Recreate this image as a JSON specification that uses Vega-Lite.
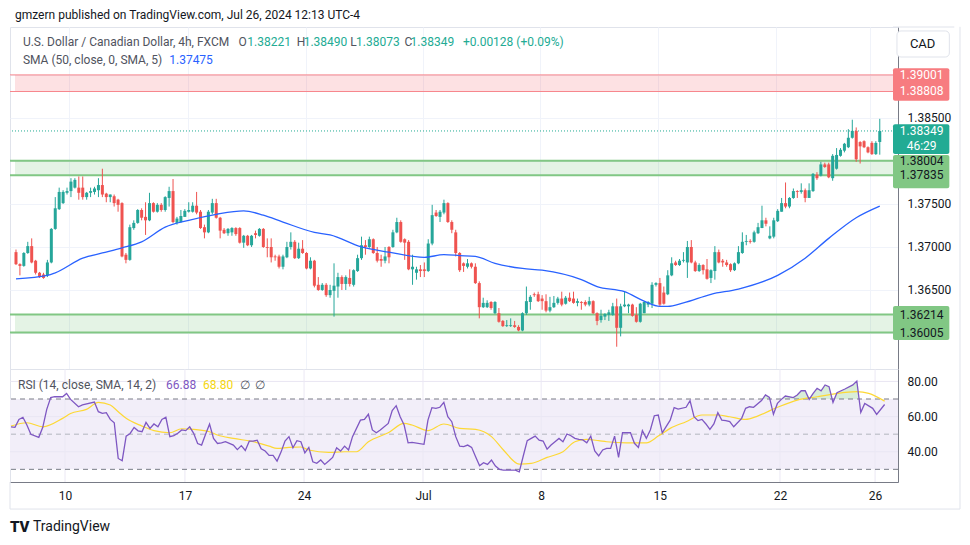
{
"$schema": "https://vega.github.io/schema/vega-lite/v6.json",
"background": "white",
"padding": {"left": 7, "top": 8, "right": 5, "bottom": 5},
"bounds": "flush",
"spacing": 0,
"config": {
  "view": {"stroke": "#e0e3eb"},
  "axis": {"gridColor": "#f0f3fa", "labelFont": "Roboto", "labelFontSize": 12, "labelColor": "#131722", "ticks": false, "tickSize": 0, "domainColor": "#787b86", "labelPadding": 9, "titleOpacity": 0},
  "text": {"font": "Roboto", "baseline": "middle"}
},
"datasets": {
"one": [{}],
"days": [{"i": 14.6, "d": "10"}, {"i": 44.8, "d": "17"}, {"i": 74.8, "d": "24"}, {"i": 104.75, "d": "Jul"}, {"i": 134.5, "d": "8"}, {"i": 164.4, "d": "15"}, {"i": 194.65, "d": "22"}, {"i": 218.6, "d": "26"}],
"rsilevels": [{"v": 40}, {"v": 60}, {"v": 80}],
"zones": [{"lo": 1.38808, "hi": 1.39001, "k": "res"}, {"lo": 1.37835, "hi": 1.38004, "k": "sup"}, {"lo": 1.36005, "hi": 1.36214, "k": "sup"}],
"tags": [{"p": 1.39001, "k": "res"}, {"p": 1.38808, "k": "res"}, {"p": 1.38349, "k": "last"}, {"p": 1.38004, "k": "sup"}, {"p": 1.37835, "k": "sup"}, {"p": 1.36214, "k": "sup"}, {"p": 1.36005, "k": "sup"}],
"candles": [
{"i":1,"o":1.3694,"h":1.3697,"l":1.3679,"c":1.3680},
{"i":2,"o":1.3680,"h":1.3681,"l":1.3667,"c":1.3678},
{"i":3,"o":1.3678,"h":1.3694,"l":1.3677,"c":1.3693},
{"i":4,"o":1.3693,"h":1.3706,"l":1.3692,"c":1.3701},
{"i":5,"o":1.3701,"h":1.3710,"l":1.3681,"c":1.3682},
{"i":6,"o":1.3684,"h":1.3685,"l":1.3668,"c":1.3670},
{"i":7,"o":1.3670,"h":1.3671,"l":1.3664,"c":1.3665},
{"i":8,"o":1.3668,"h":1.3670,"l":1.3663,"c":1.3664},
{"i":9,"o":1.3667,"h":1.3685,"l":1.3665,"c":1.3682},
{"i":10,"o":1.3682,"h":1.3722,"l":1.3681,"c":1.3721},
{"i":11,"o":1.3721,"h":1.3758,"l":1.3720,"c":1.3745},
{"i":12,"o":1.3744,"h":1.3769,"l":1.3743,"c":1.3764},
{"i":13,"o":1.3751,"h":1.3766,"l":1.3750,"c":1.3764},
{"i":14,"o":1.3763,"h":1.3769,"l":1.3761,"c":1.3765},
{"i":15,"o":1.3765,"h":1.3780,"l":1.3758,"c":1.3776},
{"i":16,"o":1.3769,"h":1.3780,"l":1.3768,"c":1.3778},
{"i":17,"o":1.3769,"h":1.3782,"l":1.3755,"c":1.3763},
{"i":18,"o":1.3769,"h":1.3782,"l":1.3755,"c":1.3758},
{"i":19,"o":1.3758,"h":1.3764,"l":1.3755,"c":1.3763},
{"i":20,"o":1.3763,"h":1.3769,"l":1.3758,"c":1.3765},
{"i":21,"o":1.3764,"h":1.3770,"l":1.3761,"c":1.3768},
{"i":22,"o":1.3766,"h":1.3780,"l":1.3758,"c":1.3772},
{"i":23,"o":1.3772,"h":1.3791,"l":1.3758,"c":1.3761},
{"i":24,"o":1.3762,"h":1.3763,"l":1.3752,"c":1.3758},
{"i":25,"o":1.3758,"h":1.3761,"l":1.3752,"c":1.3761},
{"i":26,"o":1.3759,"h":1.3761,"l":1.3747,"c":1.3751},
{"i":27,"o":1.3755,"h":1.3756,"l":1.3741,"c":1.3749},
{"i":28,"o":1.3751,"h":1.3752,"l":1.3688,"c":1.3689},
{"i":29,"o":1.3691,"h":1.3693,"l":1.3681,"c":1.3685},
{"i":30,"o":1.3685,"h":1.3726,"l":1.3684,"c":1.3723},
{"i":31,"o":1.3722,"h":1.3731,"l":1.3720,"c":1.3728},
{"i":32,"o":1.3728,"h":1.3744,"l":1.3727,"c":1.3743},
{"i":33,"o":1.3743,"h":1.3745,"l":1.3731,"c":1.3734},
{"i":34,"o":1.3735,"h":1.3752,"l":1.3714,"c":1.3731},
{"i":35,"o":1.3731,"h":1.3763,"l":1.3730,"c":1.3751},
{"i":36,"o":1.3751,"h":1.3752,"l":1.3740,"c":1.3741},
{"i":37,"o":1.3741,"h":1.3751,"l":1.3740,"c":1.3749},
{"i":38,"o":1.3749,"h":1.3751,"l":1.3741,"c":1.3743},
{"i":39,"o":1.3743,"h":1.3759,"l":1.3741,"c":1.3758},
{"i":40,"o":1.3757,"h":1.3770,"l":1.3747,"c":1.3765},
{"i":41,"o":1.3765,"h":1.3779,"l":1.3728,"c":1.3729},
{"i":42,"o":1.3728,"h":1.3735,"l":1.3726,"c":1.3733},
{"i":43,"o":1.3729,"h":1.3743,"l":1.3728,"c":1.3736},
{"i":44,"o":1.3735,"h":1.3744,"l":1.3735,"c":1.3742},
{"i":45,"o":1.3741,"h":1.3752,"l":1.3740,"c":1.3743},
{"i":46,"o":1.3741,"h":1.3752,"l":1.3740,"c":1.3748},
{"i":47,"o":1.3748,"h":1.3764,"l":1.3738,"c":1.3740},
{"i":48,"o":1.3741,"h":1.3743,"l":1.3721,"c":1.3722},
{"i":49,"o":1.3723,"h":1.3726,"l":1.3710,"c":1.3717},
{"i":50,"o":1.3717,"h":1.3743,"l":1.3716,"c":1.3741},
{"i":51,"o":1.3740,"h":1.3756,"l":1.3738,"c":1.3751},
{"i":52,"o":1.3751,"h":1.3756,"l":1.3733,"c":1.3734},
{"i":53,"o":1.3734,"h":1.3735,"l":1.3710,"c":1.3719},
{"i":54,"o":1.3720,"h":1.3722,"l":1.3715,"c":1.3716},
{"i":55,"o":1.3716,"h":1.3722,"l":1.3713,"c":1.3721},
{"i":56,"o":1.3717,"h":1.3723,"l":1.3713,"c":1.3722},
{"i":57,"o":1.3722,"h":1.3723,"l":1.3713,"c":1.3715},
{"i":58,"o":1.3722,"h":1.3723,"l":1.3704,"c":1.3705},
{"i":59,"o":1.3705,"h":1.3714,"l":1.3699,"c":1.3713},
{"i":60,"o":1.3713,"h":1.3714,"l":1.3701,"c":1.3702},
{"i":61,"o":1.3702,"h":1.3714,"l":1.3700,"c":1.3713},
{"i":62,"o":1.3716,"h":1.3719,"l":1.3710,"c":1.3714},
{"i":63,"o":1.3713,"h":1.3722,"l":1.3712,"c":1.3721},
{"i":64,"o":1.3721,"h":1.3722,"l":1.3699,"c":1.3700},
{"i":65,"o":1.3700,"h":1.3710,"l":1.3688,"c":1.3699},
{"i":66,"o":1.3700,"h":1.3710,"l":1.3682,"c":1.3688},
{"i":67,"o":1.3689,"h":1.3691,"l":1.3684,"c":1.3688},
{"i":68,"o":1.3689,"h":1.3691,"l":1.3675,"c":1.3677},
{"i":69,"o":1.3677,"h":1.3691,"l":1.3674,"c":1.3689},
{"i":70,"o":1.3688,"h":1.3706,"l":1.3687,"c":1.3700},
{"i":71,"o":1.3700,"h":1.3717,"l":1.3697,"c":1.3706},
{"i":72,"o":1.3706,"h":1.3708,"l":1.3686,"c":1.3687},
{"i":73,"o":1.3687,"h":1.3705,"l":1.3686,"c":1.3698},
{"i":74,"o":1.3698,"h":1.3708,"l":1.3692,"c":1.3693},
{"i":75,"o":1.3693,"h":1.3694,"l":1.3674,"c":1.3675},
{"i":76,"o":1.3675,"h":1.3688,"l":1.3674,"c":1.3684},
{"i":77,"o":1.3684,"h":1.3685,"l":1.3653,"c":1.3655},
{"i":78,"o":1.3656,"h":1.3665,"l":1.3649,"c":1.3650},
{"i":79,"o":1.3650,"h":1.3658,"l":1.3649,"c":1.3656},
{"i":80,"o":1.3656,"h":1.3658,"l":1.3642,"c":1.3644},
{"i":81,"o":1.3644,"h":1.3656,"l":1.3641,"c":1.3650},
{"i":82,"o":1.3649,"h":1.3681,"l":1.3619,"c":1.3655},
{"i":83,"o":1.3654,"h":1.3670,"l":1.3641,"c":1.3665},
{"i":84,"o":1.3665,"h":1.3667,"l":1.3650,"c":1.3657},
{"i":85,"o":1.3657,"h":1.3667,"l":1.3650,"c":1.3665},
{"i":86,"o":1.3664,"h":1.3674,"l":1.3654,"c":1.3657},
{"i":87,"o":1.3656,"h":1.3674,"l":1.3654,"c":1.3673},
{"i":88,"o":1.3672,"h":1.3691,"l":1.3671,"c":1.3687},
{"i":89,"o":1.3687,"h":1.3712,"l":1.3685,"c":1.3702},
{"i":90,"o":1.3702,"h":1.3708,"l":1.3691,"c":1.3700},
{"i":91,"o":1.3700,"h":1.3712,"l":1.3699,"c":1.3709},
{"i":92,"o":1.3709,"h":1.3710,"l":1.3692,"c":1.3693},
{"i":93,"o":1.3693,"h":1.3700,"l":1.3682,"c":1.3684},
{"i":94,"o":1.3686,"h":1.3691,"l":1.3677,"c":1.3684},
{"i":95,"o":1.3684,"h":1.3700,"l":1.3681,"c":1.3689},
{"i":96,"o":1.3700,"h":1.3701,"l":1.3681,"c":1.3688},
{"i":97,"o":1.3700,"h":1.3720,"l":1.3699,"c":1.3717},
{"i":98,"o":1.3717,"h":1.3734,"l":1.3716,"c":1.3729},
{"i":99,"o":1.3729,"h":1.3731,"l":1.3705,"c":1.3706},
{"i":100,"o":1.3709,"h":1.3710,"l":1.3685,"c":1.3705},
{"i":101,"o":1.3706,"h":1.3708,"l":1.3673,"c":1.3674},
{"i":102,"o":1.3674,"h":1.3691,"l":1.3656,"c":1.3677},
{"i":103,"o":1.3670,"h":1.3677,"l":1.3662,"c":1.3674},
{"i":104,"o":1.3674,"h":1.3679,"l":1.3665,"c":1.3672},
{"i":105,"o":1.3674,"h":1.3682,"l":1.3665,"c":1.3672},
{"i":106,"o":1.3672,"h":1.3709,"l":1.3671,"c":1.3704},
{"i":107,"o":1.3704,"h":1.3749,"l":1.3702,"c":1.3737},
{"i":108,"o":1.3740,"h":1.3743,"l":1.3735,"c":1.3736},
{"i":109,"o":1.3735,"h":1.3743,"l":1.3729,"c":1.3741},
{"i":110,"o":1.3740,"h":1.3755,"l":1.3738,"c":1.3751},
{"i":111,"o":1.3751,"h":1.3752,"l":1.3728,"c":1.3729},
{"i":112,"o":1.3729,"h":1.3731,"l":1.3716,"c":1.3720},
{"i":113,"o":1.3717,"h":1.3720,"l":1.3689,"c":1.3693},
{"i":114,"o":1.3693,"h":1.3694,"l":1.3671,"c":1.3673},
{"i":115,"o":1.3681,"h":1.3682,"l":1.3671,"c":1.3678},
{"i":116,"o":1.3677,"h":1.3686,"l":1.3675,"c":1.3681},
{"i":117,"o":1.3681,"h":1.3682,"l":1.3675,"c":1.3677},
{"i":118,"o":1.3677,"h":1.3681,"l":1.3657,"c":1.3658},
{"i":119,"o":1.3658,"h":1.3660,"l":1.3617,"c":1.3630},
{"i":120,"o":1.3630,"h":1.3641,"l":1.3629,"c":1.3635},
{"i":121,"o":1.3630,"h":1.3638,"l":1.3629,"c":1.3635},
{"i":122,"o":1.3636,"h":1.3637,"l":1.3627,"c":1.3629},
{"i":123,"o":1.3623,"h":1.3637,"l":1.3622,"c":1.3636},
{"i":124,"o":1.3623,"h":1.3629,"l":1.3612,"c":1.3613},
{"i":125,"o":1.3614,"h":1.3615,"l":1.3607,"c":1.3608},
{"i":126,"o":1.3608,"h":1.3615,"l":1.3607,"c":1.3609},
{"i":127,"o":1.3608,"h":1.3617,"l":1.3607,"c":1.3609},
{"i":128,"o":1.3609,"h":1.3614,"l":1.3606,"c":1.3607},
{"i":129,"o":1.3607,"h":1.3609,"l":1.3602,"c":1.3603},
{"i":130,"o":1.3603,"h":1.3624,"l":1.3602,"c":1.3623},
{"i":131,"o":1.3623,"h":1.3654,"l":1.3621,"c":1.3637},
{"i":132,"o":1.3636,"h":1.3644,"l":1.3627,"c":1.3642},
{"i":133,"o":1.3645,"h":1.3647,"l":1.3642,"c":1.3644},
{"i":134,"o":1.3645,"h":1.3648,"l":1.3636,"c":1.3637},
{"i":135,"o":1.3640,"h":1.3644,"l":1.3627,"c":1.3637},
{"i":136,"o":1.3637,"h":1.3645,"l":1.3624,"c":1.3626},
{"i":137,"o":1.3626,"h":1.3642,"l":1.3624,"c":1.3630},
{"i":138,"o":1.3630,"h":1.3643,"l":1.3629,"c":1.3635},
{"i":139,"o":1.3635,"h":1.3642,"l":1.3633,"c":1.3640},
{"i":140,"o":1.3640,"h":1.3648,"l":1.3631,"c":1.3633},
{"i":141,"o":1.3634,"h":1.3643,"l":1.3633,"c":1.3641},
{"i":142,"o":1.3641,"h":1.3647,"l":1.3636,"c":1.3637},
{"i":143,"o":1.3640,"h":1.3648,"l":1.3634,"c":1.3635},
{"i":144,"o":1.3635,"h":1.3640,"l":1.3631,"c":1.3637},
{"i":145,"o":1.3636,"h":1.3637,"l":1.3627,"c":1.3635},
{"i":146,"o":1.3636,"h":1.3638,"l":1.3631,"c":1.3633},
{"i":147,"o":1.3633,"h":1.3642,"l":1.3631,"c":1.3637},
{"i":148,"o":1.3637,"h":1.3638,"l":1.3622,"c":1.3623},
{"i":149,"o":1.3623,"h":1.3624,"l":1.3609,"c":1.3614},
{"i":150,"o":1.3615,"h":1.3627,"l":1.3612,"c":1.3620},
{"i":151,"o":1.3619,"h":1.3623,"l":1.3615,"c":1.3622},
{"i":152,"o":1.3621,"h":1.3627,"l":1.3614,"c":1.3624},
{"i":153,"o":1.3621,"h":1.3635,"l":1.3620,"c":1.3631},
{"i":154,"o":1.3631,"h":1.3640,"l":1.3584,"c":1.3606},
{"i":155,"o":1.3606,"h":1.3634,"l":1.3596,"c":1.3631},
{"i":156,"o":1.3631,"h":1.3648,"l":1.3630,"c":1.3633},
{"i":157,"o":1.3631,"h":1.3634,"l":1.3623,"c":1.3633},
{"i":158,"o":1.3633,"h":1.3634,"l":1.3619,"c":1.3620},
{"i":159,"o":1.3621,"h":1.3630,"l":1.3612,"c":1.3613},
{"i":160,"o":1.3613,"h":1.3635,"l":1.3612,"c":1.3634},
{"i":161,"o":1.3623,"h":1.3637,"l":1.3623,"c":1.3636},
{"i":162,"o":1.3633,"h":1.3637,"l":1.3630,"c":1.3636},
{"i":163,"o":1.3634,"h":1.3659,"l":1.3629,"c":1.3656},
{"i":164,"o":1.3656,"h":1.3659,"l":1.3654,"c":1.3658},
{"i":165,"o":1.3658,"h":1.3664,"l":1.3631,"c":1.3633},
{"i":166,"o":1.3647,"h":1.3654,"l":1.3633,"c":1.3634},
{"i":167,"o":1.3645,"h":1.3673,"l":1.3644,"c":1.3667},
{"i":168,"o":1.3667,"h":1.3688,"l":1.3666,"c":1.3681},
{"i":169,"o":1.3682,"h":1.3684,"l":1.3678,"c":1.3679},
{"i":170,"o":1.3679,"h":1.3686,"l":1.3678,"c":1.3684},
{"i":171,"o":1.3684,"h":1.3694,"l":1.3682,"c":1.3685},
{"i":172,"o":1.3682,"h":1.3707,"l":1.3664,"c":1.3700},
{"i":173,"o":1.3700,"h":1.3708,"l":1.3681,"c":1.3682},
{"i":174,"o":1.3682,"h":1.3684,"l":1.3671,"c":1.3672},
{"i":175,"o":1.3672,"h":1.3681,"l":1.3671,"c":1.3679},
{"i":176,"o":1.3679,"h":1.3680,"l":1.3668,"c":1.3673},
{"i":177,"o":1.3674,"h":1.3686,"l":1.3662,"c":1.3663},
{"i":178,"o":1.3664,"h":1.3674,"l":1.3658,"c":1.3673},
{"i":179,"o":1.3672,"h":1.3701,"l":1.3662,"c":1.3694},
{"i":180,"o":1.3694,"h":1.3697,"l":1.3681,"c":1.3682},
{"i":181,"o":1.3684,"h":1.3686,"l":1.3677,"c":1.3682},
{"i":182,"o":1.3682,"h":1.3685,"l":1.3677,"c":1.3679},
{"i":183,"o":1.3680,"h":1.3681,"l":1.3671,"c":1.3673},
{"i":184,"o":1.3673,"h":1.3682,"l":1.3672,"c":1.3681},
{"i":185,"o":1.3681,"h":1.3701,"l":1.3680,"c":1.3694},
{"i":186,"o":1.3693,"h":1.3717,"l":1.3692,"c":1.3706},
{"i":187,"o":1.3706,"h":1.3714,"l":1.3702,"c":1.3707},
{"i":188,"o":1.3707,"h":1.3709,"l":1.3704,"c":1.3706},
{"i":189,"o":1.3706,"h":1.3719,"l":1.3705,"c":1.3717},
{"i":190,"o":1.3716,"h":1.3728,"l":1.3715,"c":1.3723},
{"i":191,"o":1.3722,"h":1.3748,"l":1.3722,"c":1.3731},
{"i":192,"o":1.3731,"h":1.3734,"l":1.3724,"c":1.3727},
{"i":193,"o":1.3710,"h":1.3724,"l":1.3709,"c":1.3713},
{"i":194,"o":1.3712,"h":1.3734,"l":1.3710,"c":1.3731},
{"i":195,"o":1.3730,"h":1.3744,"l":1.3729,"c":1.3742},
{"i":196,"o":1.3741,"h":1.3757,"l":1.3741,"c":1.3751},
{"i":197,"o":1.3751,"h":1.3775,"l":1.3745,"c":1.3747},
{"i":198,"o":1.3747,"h":1.3758,"l":1.3745,"c":1.3757},
{"i":199,"o":1.3757,"h":1.3768,"l":1.3756,"c":1.3765},
{"i":200,"o":1.3765,"h":1.3766,"l":1.3757,"c":1.3764},
{"i":201,"o":1.3764,"h":1.3774,"l":1.3762,"c":1.3766},
{"i":202,"o":1.3766,"h":1.3768,"l":1.3752,"c":1.3757},
{"i":203,"o":1.3757,"h":1.3774,"l":1.3757,"c":1.3766},
{"i":204,"o":1.3765,"h":1.3786,"l":1.3764,"c":1.3785},
{"i":205,"o":1.3784,"h":1.3787,"l":1.3778,"c":1.3780},
{"i":206,"o":1.3783,"h":1.3799,"l":1.3782,"c":1.3796},
{"i":207,"o":1.3796,"h":1.3798,"l":1.3792,"c":1.3793},
{"i":208,"o":1.3796,"h":1.3798,"l":1.3780,"c":1.3781},
{"i":209,"o":1.3780,"h":1.3808,"l":1.3777,"c":1.3806},
{"i":210,"o":1.3791,"h":1.3815,"l":1.3790,"c":1.3807},
{"i":211,"o":1.3806,"h":1.3815,"l":1.3805,"c":1.3813},
{"i":212,"o":1.3812,"h":1.3821,"l":1.3810,"c":1.3820},
{"i":213,"o":1.3816,"h":1.3837,"l":1.3815,"c":1.3827},
{"i":214,"o":1.3827,"h":1.3848,"l":1.3826,"c":1.3835},
{"i":215,"o":1.3835,"h":1.3839,"l":1.3799,"c":1.3802},
{"i":216,"o":1.3822,"h":1.3823,"l":1.3797,"c":1.3817},
{"i":217,"o":1.3823,"h":1.3824,"l":1.3815,"c":1.3816},
{"i":218,"o":1.3816,"h":1.3817,"l":1.3809,"c":1.3810},
{"i":219,"o":1.3821,"h":1.3823,"l":1.3807,"c":1.3808},
{"i":220,"o":1.3808,"h":1.3823,"l":1.3807,"c":1.3821},
{"i":221,"o":1.38221,"h":1.38490,"l":1.38073,"c":1.38349}
],
"sma": [
{"i":1,"v":1.3663},{"i":9,"v":1.3667},{"i":11,"v":1.3670},{"i":18,"v":1.3687},{"i":23,"v":1.3693},{"i":28,"v":1.3699},{"i":33,"v":1.3706},{"i":39,"v":1.3723},{"i":45,"v":1.3731},{"i":52,"v":1.3738},{"i":59,"v":1.3742},{"i":64,"v":1.3737},{"i":69,"v":1.3729},{"i":77,"v":1.3717},{"i":81,"v":1.3714},{"i":89,"v":1.3700},{"i":96,"v":1.3694},{"i":105,"v":1.3688},{"i":110,"v":1.3691},{"i":114,"v":1.3690},{"i":118,"v":1.3689},{"i":123,"v":1.3681},{"i":130,"v":1.3675},{"i":135,"v":1.3673},{"i":145,"v":1.3662},{"i":149,"v":1.3654},{"i":156,"v":1.3648},{"i":161,"v":1.3637},{"i":165,"v":1.3631},{"i":167,"v":1.3631},{"i":171,"v":1.3635},{"i":178,"v":1.3645},{"i":185,"v":1.3651},{"i":195,"v":1.3667},{"i":202,"v":1.3687},{"i":208,"v":1.3710},{"i":215,"v":1.3734},{"i":221,"v":1.37475}
],
"rsi": [
{"i":1,"v":54.2},{"i":2,"v":53.9},{"i":3,"v":58.4},{"i":4,"v":59.6},{"i":5,"v":55.2},{"i":6,"v":49.9},{"i":8,"v":48.2},{"i":9,"v":53.9},{"i":10,"v":64.1},{"i":11,"v":70.8},{"i":12,"v":71.3},{"i":14,"v":71.3},{"i":15,"v":73.2},{"i":16,"v":69.8},{"i":18,"v":65.6},{"i":19,"v":66.6},{"i":22,"v":68.3},{"i":23,"v":62.8},{"i":24,"v":61.8},{"i":25,"v":62.2},{"i":26,"v":58.4},{"i":27,"v":56.5},{"i":28,"v":36.2},{"i":29,"v":34.9},{"i":30,"v":48.9},{"i":31,"v":50.4},{"i":32,"v":53.8},{"i":33,"v":51.9},{"i":34,"v":51.4},{"i":35,"v":56.7},{"i":36,"v":53.3},{"i":37,"v":55.8},{"i":38,"v":54.2},{"i":39,"v":58.4},{"i":40,"v":59.6},{"i":41,"v":48.6},{"i":42,"v":49.2},{"i":43,"v":50.5},{"i":44,"v":52.4},{"i":45,"v":52.0},{"i":46,"v":54.2},{"i":47,"v":50.5},{"i":48,"v":44.7},{"i":49,"v":43.8},{"i":50,"v":50.0},{"i":51,"v":55.7},{"i":52,"v":47.6},{"i":53,"v":44.7},{"i":54,"v":45.1},{"i":55,"v":45.7},{"i":57,"v":43.8},{"i":58,"v":41.2},{"i":59,"v":43.5},{"i":60,"v":40.7},{"i":61,"v":46.0},{"i":62,"v":46.0},{"i":63,"v":46.6},{"i":64,"v":41.7},{"i":65,"v":40.4},{"i":66,"v":37.9},{"i":67,"v":37.9},{"i":68,"v":34.7},{"i":69,"v":39.8},{"i":70,"v":46.1},{"i":71,"v":48.6},{"i":72,"v":42.3},{"i":73,"v":46.3},{"i":74,"v":45.7},{"i":75,"v":39.4},{"i":76,"v":42.5},{"i":77,"v":34.3},{"i":78,"v":33.4},{"i":79,"v":35.3},{"i":80,"v":32.8},{"i":81,"v":34.7},{"i":82,"v":36.8},{"i":83,"v":42.3},{"i":84,"v":40.4},{"i":85,"v":43.2},{"i":86,"v":41.0},{"i":87,"v":48.6},{"i":89,"v":58.0},{"i":90,"v":58.4},{"i":91,"v":61.3},{"i":92,"v":52.4},{"i":93,"v":50.8},{"i":94,"v":52.4},{"i":96,"v":56.1},{"i":97,"v":63.4},{"i":98,"v":66.2},{"i":99,"v":59.9},{"i":100,"v":55.2},{"i":101,"v":45.1},{"i":102,"v":45.3},{"i":105,"v":44.2},{"i":106,"v":58.0},{"i":107,"v":65.1},{"i":108,"v":64.7},{"i":109,"v":65.3},{"i":110,"v":68.1},{"i":111,"v":59.9},{"i":112,"v":57.1},{"i":113,"v":48.6},{"i":114,"v":43.2},{"i":115,"v":42.9},{"i":116,"v":43.8},{"i":117,"v":42.5},{"i":118,"v":37.2},{"i":119,"v":32.0},{"i":120,"v":33.8},{"i":121,"v":32.8},{"i":122,"v":35.3},{"i":123,"v":31.9},{"i":124,"v":30.0},{"i":125,"v":29.6},{"i":126,"v":29.6},{"i":128,"v":29.6},{"i":129,"v":28.6},{"i":130,"v":37.6},{"i":131,"v":46.3},{"i":132,"v":47.6},{"i":133,"v":48.9},{"i":134,"v":46.6},{"i":135,"v":46.1},{"i":136,"v":41.5},{"i":137,"v":43.8},{"i":138,"v":45.7},{"i":139,"v":47.6},{"i":140,"v":45.7},{"i":141,"v":50.1},{"i":142,"v":49.1},{"i":143,"v":47.6},{"i":144,"v":47.0},{"i":145,"v":46.7},{"i":146,"v":45.1},{"i":147,"v":48.9},{"i":148,"v":40.5},{"i":149,"v":37.6},{"i":150,"v":41.0},{"i":151,"v":41.9},{"i":152,"v":41.9},{"i":153,"v":48.9},{"i":154,"v":36.8},{"i":155,"v":50.8},{"i":156,"v":50.8},{"i":157,"v":50.8},{"i":158,"v":44.8},{"i":159,"v":42.5},{"i":160,"v":52.0},{"i":161,"v":47.6},{"i":162,"v":52.4},{"i":163,"v":60.5},{"i":164,"v":60.9},{"i":165,"v":50.8},{"i":167,"v":58.0},{"i":168,"v":65.1},{"i":169,"v":64.3},{"i":171,"v":65.3},{"i":172,"v":69.1},{"i":173,"v":59.9},{"i":174,"v":57.7},{"i":175,"v":58.4},{"i":176,"v":55.8},{"i":177,"v":52.7},{"i":178,"v":55.8},{"i":179,"v":62.2},{"i":180,"v":58.0},{"i":181,"v":57.7},{"i":182,"v":57.1},{"i":183,"v":54.2},{"i":185,"v":59.0},{"i":186,"v":64.7},{"i":187,"v":65.6},{"i":188,"v":65.3},{"i":190,"v":69.1},{"i":191,"v":72.3},{"i":192,"v":70.9},{"i":193,"v":61.3},{"i":194,"v":67.5},{"i":195,"v":69.8},{"i":196,"v":71.7},{"i":198,"v":70.8},{"i":199,"v":72.3},{"i":200,"v":74.7},{"i":201,"v":74.7},{"i":202,"v":69.8},{"i":203,"v":73.2},{"i":204,"v":76.1},{"i":205,"v":74.7},{"i":206,"v":78.0},{"i":207,"v":77.0},{"i":208,"v":68.1},{"i":209,"v":73.6},{"i":211,"v":75.7},{"i":213,"v":78.0},{"i":214,"v":80.2},{"i":215,"v":62.4},{"i":216,"v":67.5},{"i":218,"v":64.7},{"i":219,"v":61.3},{"i":221,"v":66.88}
],
"rsima": [
{"i":1,"v":54.6},{"i":5,"v":56.5},{"i":9,"v":54.2},{"i":14,"v":59.0},{"i":16,"v":61.8},{"i":20,"v":64.1},{"i":23,"v":68.1},{"i":26,"v":66.6},{"i":28,"v":62.8},{"i":30,"v":59.0},{"i":34,"v":54.6},{"i":37,"v":52.0},{"i":41,"v":50.8},{"i":44,"v":53.1},{"i":47,"v":52.7},{"i":51,"v":51.4},{"i":53,"v":49.5},{"i":57,"v":47.6},{"i":62,"v":45.7},{"i":66,"v":43.2},{"i":68,"v":41.9},{"i":71,"v":42.5},{"i":74,"v":42.7},{"i":76,"v":41.0},{"i":81,"v":39.6},{"i":85,"v":40.0},{"i":88,"v":40.0},{"i":91,"v":45.7},{"i":96,"v":50.8},{"i":100,"v":56.1},{"i":102,"v":55.2},{"i":106,"v":52.0},{"i":110,"v":55.8},{"i":114,"v":53.3},{"i":118,"v":52.7},{"i":122,"v":48.6},{"i":125,"v":41.0},{"i":129,"v":33.0},{"i":132,"v":33.4},{"i":136,"v":36.8},{"i":140,"v":40.0},{"i":143,"v":45.7},{"i":146,"v":47.0},{"i":149,"v":46.3},{"i":151,"v":45.7},{"i":156,"v":45.1},{"i":161,"v":45.1},{"i":164,"v":48.9},{"i":167,"v":53.3},{"i":171,"v":57.1},{"i":175,"v":60.9},{"i":179,"v":60.9},{"i":182,"v":59.9},{"i":186,"v":58.4},{"i":189,"v":60.3},{"i":194,"v":65.3},{"i":199,"v":69.4},{"i":204,"v":71.3},{"i":208,"v":72.8},{"i":214,"v":74.2},{"i":217,"v":73.2},{"i":221,"v":68.8}
]
},
"vconcat": [
{
"width": 888, "height": 342,
"layer": [
{"data": {"name": "zones"},
 "mark": {"type": "rect", "opacity": 0.15},
 "encoding": {
  "x": {"datum": 0.748, "type": "quantitative", "scale": {"domain": [0.748, 224.37], "nice": false, "zero": false}, "axis": {"values": [14.6, 44.8, 74.8, 104.75, 134.5, 164.4, 194.65, 218.6], "labels": false, "domain": false, "grid": true, "title": null}},
  "x2": {"datum": 224.37},
  "y": {"field": "hi", "type": "quantitative", "scale": {"domain": [1.35581, 1.39558], "nice": false, "zero": false}, "axis": {"orient": "right", "values": [1.36, 1.365, 1.37, 1.375, 1.38, 1.385, 1.39], "format": ".5f", "labelExpr": "(abs(datum.value-1.36)<0.0001 || abs(datum.value-1.38)<0.0001 || abs(datum.value-1.39)<0.0001) ? '' : datum.label", "grid": true, "title": null}},
  "y2": {"field": "lo"},
  "fill": {"condition": {"test": "datum.k == 'res'", "value": "#f23645"}, "value": "#4caf50"}
 }},
{"data": {"name": "zones"},
 "transform": [{"fold": ["lo", "hi"], "as": ["edge", "lvl"]}],
 "mark": {"type": "rule"},
 "encoding": {
  "y": {"field": "lvl", "type": "quantitative"},
  "stroke": {"condition": {"test": "datum.k == 'res'", "value": "#f7868c"}, "value": "#81c784"},
  "strokeWidth": {"condition": {"test": "datum.k == 'res'", "value": 1}, "value": 2}
 }},
{"data": {"name": "one"},
 "mark": {"type": "rule", "stroke": "#22ab94", "strokeDash": [1, 2]},
 "encoding": {"y": {"datum": 1.38349}}},
{"data": {"name": "candles"},
 "mark": {"type": "rule", "strokeWidth": 1},
 "encoding": {
  "x": {"field": "i", "type": "quantitative"},
  "y": {"field": "l", "type": "quantitative"},
  "y2": {"field": "h"},
  "color": {"condition": {"test": "datum.c >= datum.o", "value": "#26a69a"}, "value": "#ef5350"}
 }},
{"data": {"name": "candles"},
 "mark": {"type": "bar", "size": 3},
 "encoding": {
  "x": {"field": "i", "type": "quantitative"},
  "y": {"field": "o", "type": "quantitative"},
  "y2": {"field": "c"},
  "color": {"condition": {"test": "datum.c >= datum.o", "value": "#26a69a"}, "value": "#ef5350"}
 }},
{"data": {"name": "sma"},
 "mark": {"type": "line", "stroke": "#2962ff", "strokeWidth": 1.3, "interpolate": "monotone"},
 "encoding": {
  "x": {"field": "i", "type": "quantitative"},
  "y": {"field": "v", "type": "quantitative"}
 }},
{"data": {"name": "one"},
 "mark": {"type": "rule", "stroke": "#e0e3eb"},
 "encoding": {"x": {"datum": 224.37}, "x2": {"datum": 239.98}, "y": {"datum": 1.39558}}},
{"data": {"name": "one"},
 "mark": {"type": "rect", "fill": "#f77c80", "cornerRadius": 2},
 "encoding": {"x": {"datum": 224.37}, "x2": {"datum": 238.72}, "y": {"datum": 1.39078}, "y2": {"datum": 1.38701}}},
{"data": {"name": "one"},
 "mark": {"type": "rect", "fill": "#22ab94", "cornerRadius": 2},
 "encoding": {"x": {"datum": 224.37}, "x2": {"datum": 238.72}, "y": {"datum": 1.38427}, "y2": {"datum": 1.38081}}},
{"data": {"name": "one"},
 "mark": {"type": "rect", "fill": "#81c784", "cornerRadius": 2},
 "encoding": {"x": {"datum": 224.37}, "x2": {"datum": 238.72}, "y": {"datum": 1.38070}, "y2": {"datum": 1.37682}}},
{"data": {"name": "one"},
 "mark": {"type": "rect", "fill": "#81c784", "cornerRadius": 2},
 "encoding": {"x": {"datum": 224.37}, "x2": {"datum": 238.72}, "y": {"datum": 1.36314}, "y2": {"datum": 1.35919}}},
{"data": {"name": "tags"},
 "mark": {"type": "text", "align": "center", "fontSize": 12},
 "encoding": {
  "x": {"datum": 231.67},
  "y": {"field": "p", "type": "quantitative"},
  "text": {"field": "p", "type": "quantitative", "format": ".5f"},
  "color": {"condition": {"test": "datum.k == 'sup'", "value": "#131722"}, "value": "#ffffff"}
 }},
{"data": {"name": "one"},
 "mark": {"type": "text", "align": "center", "fontSize": 12, "color": "#ffffff"},
 "encoding": {"x": {"datum": 231.67}, "y": {"datum": 1.38174}, "text": {"value": "46:29"}}},
{"data": {"name": "one"},
 "mark": {"type": "rect", "fill": "#ffffff", "stroke": "#e0e3eb", "cornerRadius": 4},
 "encoding": {"x": {"datum": 225.38}, "x2": {"datum": 238.72}, "y": {"datum": 1.39512}, "y2": {"datum": 1.39209}}},
{"data": {"name": "one"},
 "mark": {"type": "text", "align": "center", "fontSize": 13, "color": "#131722"},
 "encoding": {"x": {"datum": 231.92}, "y": {"datum": 1.3936}, "text": {"value": "CAD"}}},
{"data": {"name": "one"},
 "mark": {"type": "text", "align": "left", "fontSize": 12, "color": "#131722"},
 "encoding": {"x": {"datum": 0.748}, "y": {"datum": 1.39698}, "text": {"value": "gmzern published on TradingView.com, Jul 26, 2024 12:13 UTC-4"}}},
{"data": {"name": "one"},
 "mark": {"type": "text", "align": "left", "fontSize": 12, "color": "#50535e"},
 "encoding": {"x": {"datum": 2.763}, "y": {"datum": 1.39384}, "text": {"value": "U.S. Dollar / Canadian Dollar, 4h, FXCM"}}},
{"data": {"name": "one"},
 "mark": {"type": "text", "align": "left", "fontSize": 12, "color": "#50535e"},
 "encoding": {"x": {"datum": 57.66}, "y": {"datum": 1.39384}, "text": {"value": "O"}}},
{"data": {"name": "one"},
 "mark": {"type": "text", "align": "left", "fontSize": 12, "color": "#22ab94"},
 "encoding": {"x": {"datum": 59.93}, "y": {"datum": 1.39384}, "text": {"value": "1.38221"}}},
{"data": {"name": "one"},
 "mark": {"type": "text", "align": "left", "fontSize": 12, "color": "#50535e"},
 "encoding": {"x": {"datum": 72.52}, "y": {"datum": 1.39384}, "text": {"value": "H"}}},
{"data": {"name": "one"},
 "mark": {"type": "text", "align": "left", "fontSize": 12, "color": "#22ab94"},
 "encoding": {"x": {"datum": 74.28}, "y": {"datum": 1.39384}, "text": {"value": "1.38490"}}},
{"data": {"name": "one"},
 "mark": {"type": "text", "align": "left", "fontSize": 12, "color": "#50535e"},
 "encoding": {"x": {"datum": 86.12}, "y": {"datum": 1.39384}, "text": {"value": "L"}}},
{"data": {"name": "one"},
 "mark": {"type": "text", "align": "left", "fontSize": 12, "color": "#22ab94"},
 "encoding": {"x": {"datum": 87.63}, "y": {"datum": 1.39384}, "text": {"value": "1.38073"}}},
{"data": {"name": "one"},
 "mark": {"type": "text", "align": "left", "fontSize": 12, "color": "#50535e"},
 "encoding": {"x": {"datum": 99.97}, "y": {"datum": 1.39384}, "text": {"value": "C"}}},
{"data": {"name": "one"},
 "mark": {"type": "text", "align": "left", "fontSize": 12, "color": "#22ab94"},
 "encoding": {"x": {"datum": 101.48}, "y": {"datum": 1.39384}, "text": {"value": "1.38349"}}},
{"data": {"name": "one"},
 "mark": {"type": "text", "align": "left", "fontSize": 12, "color": "#22ab94"},
 "encoding": {"x": {"datum": 114.83}, "y": {"datum": 1.39384}, "text": {"value": "+0.00128 (+0.09%)"}}},
{"data": {"name": "one"},
 "mark": {"type": "text", "align": "left", "fontSize": 12, "color": "#50535e"},
 "encoding": {"x": {"datum": 2.763}, "y": {"datum": 1.3918}, "text": {"value": "SMA (50, close, 0, SMA, 5)"}}},
{"data": {"name": "one"},
 "mark": {"type": "text", "align": "left", "fontSize": 12, "color": "#2962ff"},
 "encoding": {"x": {"datum": 40.03}, "y": {"datum": 1.3918}, "text": {"value": "1.37475"}}}
]
},
{
"width": 888, "height": 113,
"layer": [
{"data": {"name": "rsi"},
 "transform": [{"filter": "datum.i >= 185"}],
 "mark": {"type": "area", "color": "#4caf50", "opacity": 0.22},
 "encoding": {
  "x": {"field": "i", "type": "quantitative", "scale": {"domain": [0.748, 224.37], "nice": false, "zero": false}, "axis": {"values": [14.6, 44.8, 74.8, 104.75, 134.5, 164.4, 194.65, 218.6], "labelExpr": "datum.value < 20 ? '10' : datum.value < 50 ? '17' : datum.value < 80 ? '24' : datum.value < 110 ? 'Jul' : datum.value < 140 ? '8' : datum.value < 170 ? '15' : datum.value < 200 ? '22' : '26'", "grid": false, "labelPadding": 8, "labelFontSize": 12, "domainColor": "#787b86", "title": null}},
  "y": {"field": "v", "type": "quantitative", "scale": {"domain": [22.8, 87.07], "nice": false, "zero": false}, "axis": {"orient": "right", "values": [40, 60, 80], "format": ".2f", "grid": false, "title": null}},
  "y2": {"datum": 70}
 }},
{"data": {"name": "one"},
 "mark": {"type": "rect", "fill": "#f2eef9"},
 "encoding": {"x": {"datum": 0.748}, "x2": {"datum": 224.37}, "y": {"datum": 70}, "y2": {"datum": 30}}},
{"data": {"name": "rsilevels"},
 "mark": {"type": "rule", "stroke": "#e9e6f3"},
 "encoding": {"y": {"field": "v", "type": "quantitative"}}},
{"data": {"name": "days"},
 "mark": {"type": "rule", "stroke": "#ebe8f4"},
 "encoding": {"x": {"field": "i", "type": "quantitative"}}},
{"data": {"name": "one"},
 "mark": {"type": "rule", "stroke": "#787b86", "strokeDash": [5, 4]},
 "encoding": {"y": {"datum": 70}}},
{"data": {"name": "one"},
 "mark": {"type": "rule", "stroke": "#787b86", "strokeDash": [5, 4]},
 "encoding": {"y": {"datum": 30}}},
{"data": {"name": "one"},
 "mark": {"type": "rule", "stroke": "#b2b5be", "strokeDash": [5, 4]},
 "encoding": {"y": {"datum": 50}}},
{"data": {"name": "rsima"},
 "mark": {"type": "line", "stroke": "#fdd835", "strokeWidth": 1.2, "interpolate": "monotone"},
 "encoding": {"x": {"field": "i", "type": "quantitative"}, "y": {"field": "v", "type": "quantitative"}}},
{"data": {"name": "rsi"},
 "mark": {"type": "line", "stroke": "#7e57c2", "strokeWidth": 1.3},
 "encoding": {"x": {"field": "i", "type": "quantitative"}, "y": {"field": "v", "type": "quantitative"}}},
{"data": {"name": "one"},
 "mark": {"type": "text", "align": "left", "fontSize": 12, "color": "#50535e"},
 "encoding": {"x": {"datum": 2.763}, "y": {"datum": 77.97}, "text": {"value": "RSI (14, close, SMA, 14, 2)"}}},
{"data": {"name": "one"},
 "mark": {"type": "text", "align": "left", "fontSize": 12, "color": "#7e57c2"},
 "encoding": {"x": {"datum": 40.03}, "y": {"datum": 77.97}, "text": {"value": "66.88"}}},
{"data": {"name": "one"},
 "mark": {"type": "text", "align": "left", "fontSize": 12, "color": "#f5d60f"},
 "encoding": {"x": {"datum": 49.35}, "y": {"datum": 77.97}, "text": {"value": "68.80"}}},
{"data": {"name": "one"},
 "mark": {"type": "text", "align": "left", "fontSize": 12, "color": "#50535e"},
 "encoding": {"x": {"datum": 58.67}, "y": {"datum": 77.97}, "text": {"value": "∅"}}},
{"data": {"name": "one"},
 "mark": {"type": "text", "align": "left", "fontSize": 12, "color": "#50535e"},
 "encoding": {"x": {"datum": 62.45}, "y": {"datum": 77.97}, "text": {"value": "∅"}}},
{"data": {"name": "one"},
 "mark": {"type": "rule", "stroke": "#e0e3eb"},
 "encoding": {"x": {"datum": 0.748}, "x2": {"datum": 239.98}, "y": {"datum": 7.41}}},
{"data": {"name": "one"},
 "mark": {"type": "rule", "stroke": "#e0e3eb"},
 "encoding": {"x": {"datum": 239.98}, "y": {"datum": 281.7}, "y2": {"datum": 7.41}}},
{"data": {"name": "one"},
 "mark": {"type": "rule", "stroke": "#e0e3eb"},
 "encoding": {"x": {"datum": 0.748}, "y": {"datum": 22.8}, "y2": {"datum": 7.41}}},
{"data": {"name": "one"},
 "mark": {"type": "text", "align": "left", "fontSize": 15, "fontWeight": 900, "color": "#131722"},
 "encoding": {"x": {"datum": 0.748}, "y": {"datum": -2.83}, "text": {"value": "TV"}}},
{"data": {"name": "one"},
 "mark": {"type": "text", "align": "left", "fontSize": 14, "color": "#131722"},
 "encoding": {"x": {"datum": 6.54}, "y": {"datum": -2.83}, "text": {"value": "TradingView"}}}
]
}
]
}
